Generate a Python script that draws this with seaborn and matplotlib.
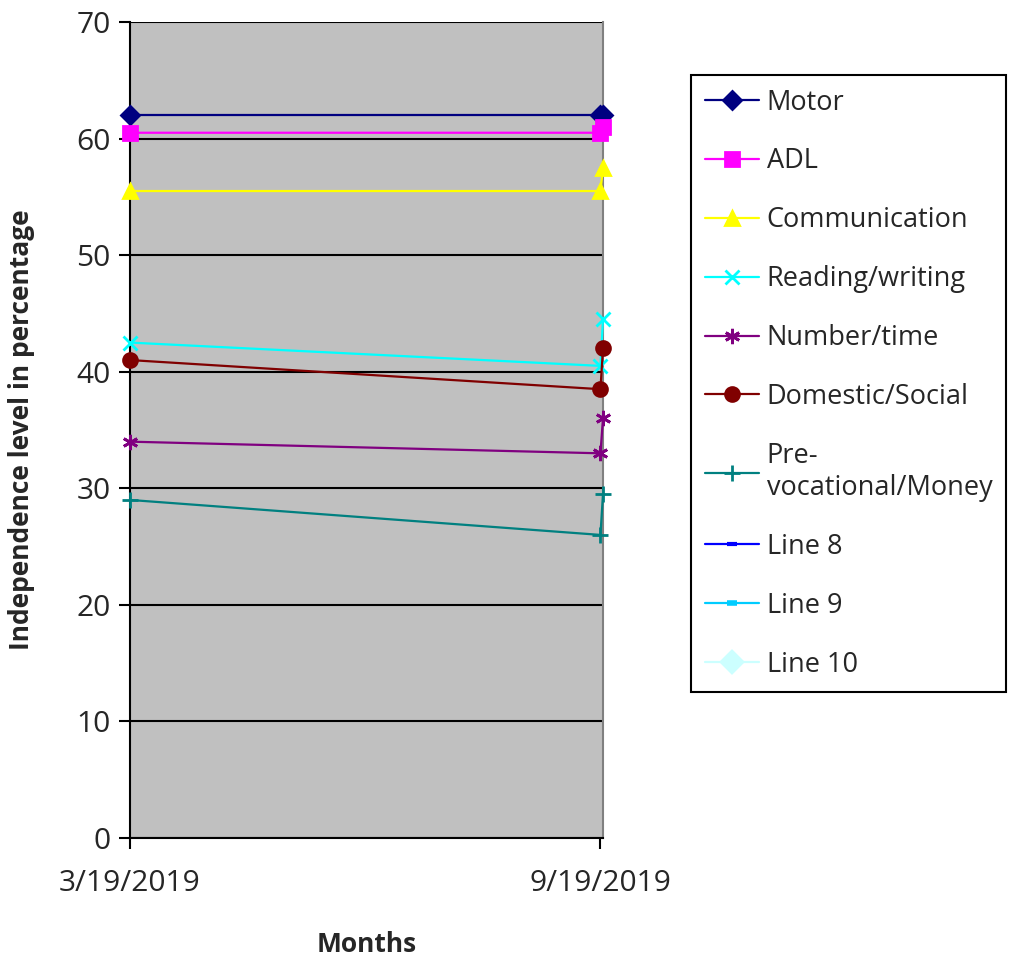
import numpy as np
import pandas as pd
import matplotlib
matplotlib.use("Agg")
import matplotlib.pyplot as plt
from matplotlib.lines import Line2D
import seaborn as sns

# data (third point sits one day after the second)
dates = pd.to_datetime(["2019-03-19", "2019-09-19", "2019-09-20"])
tick_dates = pd.to_datetime(["2019-03-19", "2019-09-19"])
tick_labels = ["3/19/2019", "9/19/2019"]

series = ["Motor", "ADL", "Communication", "Reading/writing",
          "Number/time", "Domestic/Social", "Pre-\nvocational/Money"]
motor = [62, 62, 62]
adl = [60.5, 60.5, 61]
communication = [55.5, 55.5, 57.5]
reading = [42.5, 40.5, 44.5]
number = [34, 33, 36]
domestic = [41, 38.5, 42]
prevoc = [29, 26, 29.5]
values = [motor, adl, communication, reading, number, domestic, prevoc]

colors = ["#000080", "#FF00FF", "#FFFF00", "#00FFFF", "#800080", "#800000", "#008080"]
markers = ["D", "s", "^", "x", (6, 2, 0), "o", "+"]
msizes = [9, 10, 10, 10, 11, 10, 12]

# empty placeholder series that only show in the legend
empty_series = ["Line 8", "Line 9", "Line 10"]
empty_colors = ["#0000FF", "#00CCFF", "#CCFFFF"]
empty_markers = ["_", "_", "D"]

sns.set_style("white")
plt.rcParams["font.family"] = ["Open Sans", "DejaVu Sans"]

fig = plt.figure(figsize=(10.1, 9.59), dpi=100)
ax = fig.add_axes([130 / 1010, 1 - 838 / 959, 473 / 1010, 816 / 959])
ax.set_facecolor("#C0C0C0")

handles = []
for name, vals, c, m, ms in zip(series, values, colors, markers, msizes):
    df = pd.DataFrame({"date": dates, "val": vals})
    sns.lineplot(data=df, x="date", y="val", ax=ax, color=c, marker=m,
                 markersize=ms, markeredgecolor=c, markeredgewidth=2,
                 linewidth=1.6, sort=False, legend=False, clip_on=False, zorder=3)
    handles.append(Line2D([], [], color=c, marker=m, markersize=ms,
                          markeredgecolor=c, markeredgewidth=2, linewidth=1.6, label=name))

for name, c, m in zip(empty_series, empty_colors, empty_markers):
    mew = 4 if name == "Line 9" else 3
    handles.append(Line2D([], [], color=c, marker=m, markersize=7 if m == "_" else 10,
                          markeredgecolor=c, markeredgewidth=mew, linewidth=1.6, label=name))

ax.set_ylim(0, 70)
ax.set_yticks(range(0, 71, 10))
ax.set_xlim(dates[0], dates[-1])
ax.set_xticks(tick_dates)
ax.set_xticklabels(tick_labels)
ax.yaxis.grid(True, color="black", linewidth=1.5)
ax.set_axisbelow(True)

for s in ["left", "bottom"]:
    ax.spines[s].set_color("black")
    ax.spines[s].set_linewidth(1.5)
ax.spines["right"].set_color("#808080")
ax.spines["right"].set_linewidth(1.5)
ax.spines["top"].set_visible(False)

ax.tick_params(axis="both", direction="out", length=8, width=1.5, color="black",
               labelsize=21.5, pad=6, left=True, bottom=True)
ax.tick_params(axis="x", pad=14)

ax.set_xlabel("Months", fontsize=19, fontweight="bold", labelpad=24)
ax.set_ylabel("Independence level in percentage", fontsize=19, fontweight="bold", labelpad=30)

leg = fig.legend(handles=handles, loc="upper left",
                 bbox_to_anchor=(691 / 1010, 1 - 75 / 959), borderaxespad=0,
                 frameon=True, fancybox=False, fontsize=19.5, labelspacing=1.14,
                 handlelength=2.0, handletextpad=0.3, borderpad=0.5,
                 edgecolor="black", framealpha=1)
leg.get_frame().set_linewidth(1.5)

fig.savefig("out.png", dpi=100)
